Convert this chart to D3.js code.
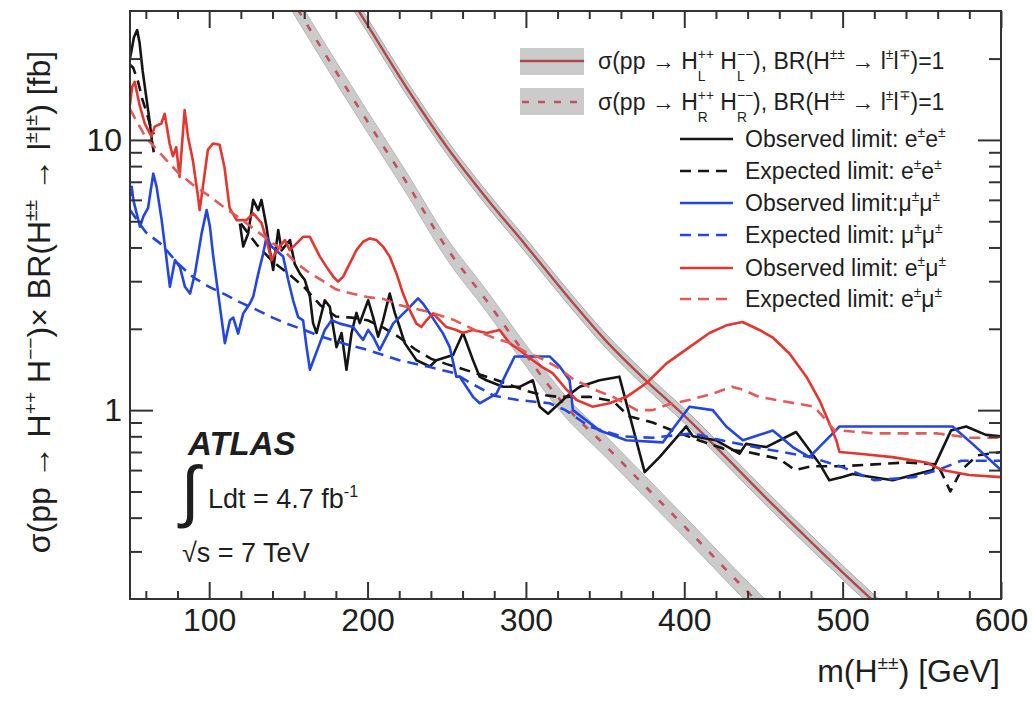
<!DOCTYPE html>
<html>
<head>
<meta charset="utf-8">
<script src="https://cdn.jsdelivr.net/npm/d3@7"></script>
<style>
  html, body { margin: 0; padding: 0; background: #fff; }
  svg { display: block; }
  text { font-family: "Liberation Sans", Arial, Helvetica, sans-serif; fill: #1e1e1e; white-space: pre; }
</style>
</head>
<body>
<svg id="chart" width="1032" height="706"></svg>
<script>
// ---- axis ticks ----
const xMajorTicks = [100, 200, 300, 400, 500, 600];
const xMinorTicks = [60, 80, 120, 140, 160, 180, 220, 240, 260, 280, 320, 340, 360, 380, 420, 440, 460, 480, 520, 540, 560, 580];
const yMajorTicks = [1, 10];
const yMinorTicks = [0.3, 0.4, 0.5, 0.6, 0.7, 0.8, 0.9, 2, 3, 4, 5, 6, 7, 8, 9, 20];

// ---- theory cross sections (fb) ----
const massTheory = [150, 175, 200, 225, 250, 275, 300, 325, 350, 375, 400, 450, 500, 550, 600];
const sigmaL = [85, 45.7, 26.6, 15.5, 9.44, 6.1, 4.07, 2.69, 1.82, 1.30, 0.955, 0.484, 0.251, 0.135, 0.074];
const sigmaR = [34.7, 20.0, 11.7, 6.9, 3.98, 2.55, 1.60, 1.035, 0.741, 0.525, 0.372, 0.186, 0.100, 0.055, 0.032];
const relUncL = 0.06;
const relUncR = 0.09;

// ---- 95% CL limits, [mass GeV, sigma x BR fb]; null marks the ee Z-window gap ----
const obsEE = [[50,20],[51,21.5],[52.5,24],[54.5,25.5],[56,23],[58,18],[60,14.8],[62,12.2],[64,9.8],[65,9.0], null,
  [119.4,4.9],[121.5,4.03],[124.6,4.5],[127.8,6.0],[131,5.5],[133,6.0],[136.2,4.77],[138.3,3.9],[140.4,3.3],[143.6,4.64],
  [145.7,3.9],[151,4.26],[154,3.48],[157.3,3.2],[160.4,3.03],[163.6,2.63],[165.6,2.1],[167.8,1.93],[173,2.55],[176.2,2.41],
  [180.4,1.71],[183.6,1.93],[186.7,1.41],[189.9,1.93],[193,2.29],[195.1,2.1],[200.4,2.55],[203.5,2.21],[206.7,1.87],
  [209.8,2.15],[214,2.7],[217.2,2.29],[220.3,2.03],[223.5,1.77],[230.9,1.53],[239.3,1.45],[243.5,1.53],[254,1.6],
  [260.3,1.93],[266.6,1.53],[270.8,1.33],[275,1.29],[285.5,1.22],[296,1.22],[304.4,1.29],[308.7,1.03],[314,0.97],
  [325.5,1.12],[334,1.22],[346.5,1.29],[359,1.33],[375,0.59],[384.4,0.67],[401.2,0.87],[405.4,0.80],[420,0.774],
  [434.8,0.69],[439,0.75],[451.7,0.73],[470.6,0.83],[485.3,0.635],[491.6,0.55],[500,0.566],[506.3,0.58],[531.6,0.55],
  [556.8,0.60],[568.4,0.84],[578,0.87],[590.5,0.81],[600,0.80]];

const expEE = [[50,19],[52,18.5],[55,16.5],[58,14],[60,12.9],[63,11.2],[65,10.5], null,
  [120,4.9],[130,4.1],[140,3.55],[150,3.2],[160,2.85],[170,2.45],[180,2.22],[190,2.2],[200,2.15],[210,2.02],[220,1.86],
  [230,1.68],[240,1.55],[250,1.48],[260,1.42],[270,1.36],[280,1.3],[290,1.24],[300,1.18],[310,1.14],[320,1.12],[340,1.12],
  [355,1.08],[365,0.95],[380,0.9],[395,0.83],[410,0.77],[425,0.72],[440,0.70],[460,0.66],[470,0.60],[480,0.62],[500,0.62],
  [520,0.63],[540,0.64],[560,0.63],[568,0.50],[575,0.60],[585,0.68],[600,0.70]];

const obsMM = [[50,6.2],[51.1,6.7],[52.1,6.0],[54.2,5.35],[56.3,4.77],[58.4,5.2],[61.4,5.6],[64.7,7.5],[66.8,6.7],[70,5.05],
  [72.1,4.03],[75.2,2.86],[78.4,3.59],[81.5,3.39],[84.7,2.86],[87.9,2.7],[91,3.2],[95.2,4.5],[98.4,5.5],[100.5,4.77],
  [102.6,3.7],[106.8,2.41],[109.9,1.77],[113.1,2.15],[115.2,2.2],[118.3,1.92],[121.5,2.28],[125.7,2.48],[127.8,2.63],
  [131,3.2],[134.1,3.8],[136.2,4.38],[139.4,4.03],[146.7,3.7],[149.9,3.03],[153,2.55],[156.2,2.21],[159.3,2.15],
  [161.5,1.71],[163.6,1.41],[166.7,1.58],[169.9,1.77],[173,1.98],[177.3,2.15],[182.5,2.09],[190.9,2.03],[194,1.92],
  [197.2,1.82],[200.4,1.98],[203.5,1.87],[207.7,1.67],[212,1.87],[216.1,2.09],[220.3,2.21],[224.6,2.34],[228.7,2.48],
  [231.9,2.59],[235,2.48],[239.3,2.28],[243.5,2.09],[247.7,1.92],[251.9,1.71],[256.1,1.33],[258.2,1.33],[266.6,1.12],
  [270.8,1.06],[281.4,1.15],[287.7,1.37],[292.9,1.58],[315,1.58],[321.3,1.45],[327.6,1.29],[329.7,1.0],[346.5,0.84],
  [363.4,0.774],[386.5,0.76],[403.3,1.03],[418,1.0],[426.5,0.87],[437,0.774],[455.9,0.84],[468.5,0.73],[479,0.67],
  [489.6,0.774],[498,0.87],[569.4,0.87],[582,0.75],[600,0.60]];

const expMM = [[50,5.5],[55,5.0],[60,4.55],[70,4.1],[80,3.5],[90,3.1],[100,2.86],[110,2.68],[120,2.5],[130,2.35],[140,2.2],
  [150,2.08],[160,1.98],[170,1.88],[180,1.8],[190,1.73],[200,1.67],[220,1.53],[240,1.44],[255,1.37],[265,1.26],[280,1.13],
  [295,1.09],[315,1.06],[325,1.0],[340,0.87],[360,0.80],[380,0.79],[405,0.82],[425,0.77],[450,0.72],[480,0.67],[500,0.615],
  [520,0.55],[545,0.565],[560,0.6],[575,0.65],[600,0.65]];

const obsEM = [[50,13.5],[51.3,15.7],[53,16.4],[56,13.5],[59.3,11.5],[63.5,10.3],[65.6,11.2],[69.8,11.5],[71.9,12.5],[75,9.7],
  [77.1,8.7],[79.2,9.4],[81.3,7.3],[84.5,12.9],[86.6,10.3],[89.7,8.4],[92.9,6.2],[94,5.5],[99.2,9.2],[102.4,9.7],[106.6,9.6],
  [109.7,7.9],[112.9,5.6],[117.3,5.05],[123.6,5.05],[127.8,5.35],[133.1,4.92],[136.2,4.26],[139.4,3.59],[141.5,3.8],
  [144.6,4.03],[147.8,4.26],[150.9,3.91],[155.2,4.14],[159.3,4.38],[163.6,4.38],[166.7,4.03],[169.9,3.7],[174.1,3.39],
  [178.3,3.12],[181.4,2.99],[184.6,3.12],[188.8,3.49],[193,3.91],[197.2,4.2],[201.4,4.32],[205.6,4.26],[209.8,4.03],
  [214,3.7],[218.3,3.2],[222.4,2.7],[226.7,2.34],[230.9,2.09],[234,2.03],[237.2,2.15],[241.4,2.28],[245.6,2.15],
  [249.8,2.03],[256.1,1.98],[260,1.93],[266.4,1.98],[275.2,1.93],[283.4,1.98],[289.7,1.77],[296,1.67],[304.3,1.53],
  [310.6,1.44],[316.9,1.37],[325.7,1.19],[332,1.09],[342,1.03],[352.8,1.06],[363.6,1.12],[376.2,1.26],[388.8,1.49],
  [403.3,1.71],[415.9,1.93],[426.7,2.06],[436.8,2.12],[447.5,1.98],[455.7,1.86],[466.4,1.62],[477.1,1.33],[485.3,1.09],
  [491.6,0.895],[496,0.774],[498,0.70],[510.6,0.69],[531.4,0.67],[552.8,0.64],[562.9,0.60],[579.9,0.575],[600,0.565]];

const expEM = [[50,13],[55,11.5],[60,10.2],[70,8.8],[80,7.6],[90,6.8],[100,6.2],[110,5.6],[120,5.1],[130,4.6],[140,4.15],
  [147,3.9],[155,3.5],[164,3.2],[172,3.0],[180,2.8],[190,2.7],[200,2.62],[210,2.58],[220,2.45],[240,2.3],[255,2.15],
  [270,1.95],[280,1.85],[290,1.77],[300,1.64],[310,1.55],[320,1.44],[330,1.3],[345,1.18],[355,1.12],[370,1.0],[380,1.0],
  [390,1.05],[403,1.09],[418,1.15],[430,1.22],[437,1.19],[447,1.12],[458,1.09],[470,1.06],[482,1.03],[488,0.94],
  [495,0.84],[500,0.84],[520,0.82],[560,0.82],[580,0.79],[600,0.79]];

// ---- legend labels ----
const limitLegend = [
  { label: "Observed limit: ", pair: ["e", "e"],   color: "#151515", dash: null },
  { label: "Expected limit: ", pair: ["e", "e"],   color: "#151515", dash: "11,7" },
  { label: "Observed limit:",  pair: ["μ", "μ"],   color: "#2346e0", dash: null },
  { label: "Expected limit: ", pair: ["μ", "μ"],   color: "#2346e0", dash: "11,7" },
  { label: "Observed limit: ", pair: ["e", "μ"],   color: "#e2362f", dash: null },
  { label: "Expected limit: ", pair: ["e", "μ"],   color: "#e25a5a", dash: "11,7" }
];

// ---- layout ----
const svg = d3.select("#chart");
const plotL = 130, plotR = 1001, plotT = 11, plotB = 599;
const x = d3.scaleLinear().domain([50, 600]).range([plotL, plotR]);
const y = d3.scaleLog().domain([0.2, 30]).range([plotB, plotT]);

svg.append("rect").attr("width", 1032).attr("height", 706).attr("fill", "#fff");

svg.append("defs").append("clipPath").attr("id", "plotClip")
  .append("rect").attr("x", plotL).attr("y", plotT).attr("width", plotR - plotL).attr("height", plotB - plotT);

const plot = svg.append("g").attr("clip-path", "url(#plotClip)");

// theory bands
function theoryBand(sig, unc) {
  return massTheory.map((m, i) => ({ m, v: sig[i], lo: sig[i] * (1 - unc), hi: sig[i] * (1 + unc) }));
}
const bandArea = d3.area().x(d => x(d.m)).y0(d => y(d.lo)).y1(d => y(d.hi)).curve(d3.curveMonotoneX);
const bandLine = d3.line().x(d => x(d.m)).y(d => y(d.v)).curve(d3.curveMonotoneX);

const bandR = theoryBand(sigmaR, relUncR);
const bandL = theoryBand(sigmaL, relUncL);

plot.append("path").attr("d", bandArea(bandR)).attr("fill", "#cbcbcb").attr("stroke", "#b8b8b8").attr("stroke-width", 1);
plot.append("path").attr("d", bandLine(bandR)).attr("fill", "none").attr("stroke", "#c4505e")
  .attr("stroke-width", 2.6).attr("stroke-dasharray", "7,11");
plot.append("path").attr("d", bandArea(bandL)).attr("fill", "#cbcbcb").attr("stroke", "#a9a9a9").attr("stroke-width", 1);
plot.append("path").attr("d", bandLine(bandL)).attr("fill", "none").attr("stroke", "#b04848").attr("stroke-width", 2.4);

// limit curves
const limitLine = d3.line().defined(d => d !== null).x(d => x(d[0])).y(d => y(d[1]));
const series = [
  { data: obsEE, color: "#151515", dash: null },
  { data: expEE, color: "#151515", dash: "11,7" },
  { data: obsMM, color: "#2346e0", dash: null },
  { data: expMM, color: "#2346e0", dash: "11,7" },
  { data: obsEM, color: "#e2362f", dash: null },
  { data: expEM, color: "#e25a5a", dash: "11,7" }
];
series.forEach(s => {
  plot.append("path").attr("d", limitLine(s.data)).attr("fill", "none")
    .attr("stroke", s.color).attr("stroke-width", 2.6).attr("stroke-linejoin", "round")
    .attr("stroke-dasharray", s.dash);
});

// ---- axes (inward ticks on all four sides) ----
function styleAxis(g) {
  g.select(".domain").remove();
  g.selectAll(".tick line").attr("stroke", "#333").attr("stroke-width", 2);
  g.selectAll(".tick text").attr("font-size", 32).attr("fill", "#1e1e1e")
    .attr("font-family", "Liberation Sans, Arial, sans-serif");
}
const fmt = d3.format("d");
svg.append("g").attr("transform", `translate(0,${plotB})`)
  .call(d3.axisBottom(x).tickValues(xMajorTicks).tickSize(-17).tickPadding(9).tickFormat(fmt)).call(styleAxis);
svg.append("g").attr("transform", `translate(0,${plotB})`)
  .call(d3.axisBottom(x).tickValues(xMinorTicks).tickSize(-8).tickFormat("")).call(styleAxis);
svg.append("g").attr("transform", `translate(0,${plotT})`)
  .call(d3.axisTop(x).tickValues(xMajorTicks).tickSize(-17).tickFormat("")).call(styleAxis);
svg.append("g").attr("transform", `translate(0,${plotT})`)
  .call(d3.axisTop(x).tickValues(xMinorTicks).tickSize(-8).tickFormat("")).call(styleAxis);

svg.append("g").attr("transform", `translate(${plotL},0)`)
  .call(d3.axisLeft(y).tickValues(yMajorTicks).tickSize(-23).tickPadding(8).tickFormat(fmt)).call(styleAxis);
svg.append("g").attr("transform", `translate(${plotL},0)`)
  .call(d3.axisLeft(y).tickValues(yMinorTicks).tickSize(-12).tickFormat("")).call(styleAxis);
svg.append("g").attr("transform", `translate(${plotR},0)`)
  .call(d3.axisRight(y).tickValues(yMajorTicks).tickSize(-23).tickFormat("")).call(styleAxis);
svg.append("g").attr("transform", `translate(${plotR},0)`)
  .call(d3.axisRight(y).tickValues(yMinorTicks).tickSize(-12).tickFormat("")).call(styleAxis);

svg.append("rect").attr("x", plotL).attr("y", plotT).attr("width", plotR - plotL).attr("height", plotB - plotT)
  .attr("fill", "none").attr("stroke", "#333").attr("stroke-width", 2);

// ---- rich text: runs of text with super/subscripts ----
// part: {t, s: size factor, dy: baseline shift in em, stack: place over previous script}
function richText(parent, px, py, parts, size, opts = {}) {
  const g = parent.append("g");
  const inner = g.append("g");
  let cx = 0, lastStart = 0;
  parts.forEach(p => {
    const fs = size * (p.s || 1);
    const sx = p.stack ? lastStart : cx;
    const t = inner.append("text").attr("x", sx).attr("y", (p.dy || 0) * size)
      .attr("font-size", fs).text(p.t);
    if (p.weight) t.attr("font-weight", p.weight);
    if (p.style) t.attr("font-style", p.style);
    if (p.family) t.attr("font-family", p.family);
    const w = t.node().getComputedTextLength();
    if (p.stack) cx = Math.max(cx, sx + w);
    else { lastStart = sx; cx = sx + w; }
  });
  const shift = opts.anchor === "end" ? -cx : opts.anchor === "middle" ? -cx / 2 : 0;
  inner.attr("transform", `translate(${shift},0)`);
  g.attr("transform", `translate(${px},${py})` + (opts.rotate ? ` rotate(${opts.rotate})` : ""));
  return g;
}
const SUP = -0.42, SC = 0.6;

// axis titles
richText(svg, 1000, 682, [
  { t: "m(H" }, { t: "±±", s: SC, dy: SUP }, { t: ") [GeV]" }
], 32, { anchor: "end" });

richText(svg, 50, 302, [
  { t: "σ(pp → H" }, { t: "++", s: SC, dy: SUP }, { t: " H" }, { t: "−−", s: SC, dy: SUP },
  { t: ")× BR(H" }, { t: "±±", s: SC, dy: SUP }, { t: " → l" }, { t: "±", s: SC, dy: SUP },
  { t: "l" }, { t: "±", s: SC, dy: SUP }, { t: ") [fb]" }
], 32, { anchor: "middle", rotate: -90 });

// experiment label
richText(svg, 188, 455, [{ t: "ATLAS", weight: "bold", style: "italic" }], 33);
svg.append("text").attr("x", 181).attr("y", 514).attr("font-size", 68)
  .attr("font-family", "DejaVu Sans, sans-serif").text("∫");
richText(svg, 208, 508, [{ t: "Ldt = 4.7 fb" }, { t: "-1", s: SC, dy: SUP }], 27);
richText(svg, 182, 562, [{ t: "√s = 7 TeV" }], 27);

// ---- legend ----
const leg = svg.append("g");
leg.append("rect").attr("x", 520).attr("y", 48).attr("width", 64).attr("height", 27).attr("fill", "#cbcbcb");
leg.append("line").attr("x1", 520).attr("x2", 584).attr("y1", 61).attr("y2", 61)
  .attr("stroke", "#b04848").attr("stroke-width", 2.4);
leg.append("rect").attr("x", 520).attr("y", 88).attr("width", 64).attr("height", 27).attr("fill", "#cbcbcb");
leg.append("line").attr("x1", 522).attr("x2", 584).attr("y1", 102).attr("y2", 102)
  .attr("stroke", "#c4505e").attr("stroke-width", 2.6).attr("stroke-dasharray", "7,9");

function theoryLabel(hand, yy) {
  richText(leg, 598, yy, [
    { t: "σ(pp → H" }, { t: "++", s: SC, dy: SUP }, { t: hand, s: SC, dy: 0.5, stack: true },
    { t: " H" }, { t: "−−", s: SC, dy: SUP }, { t: hand, s: SC, dy: 0.5, stack: true },
    { t: "), BR(H" }, { t: "±±", s: SC, dy: SUP }, { t: " → l" }, { t: "±", s: SC, dy: SUP },
    { t: "l" }, { t: "∓", s: SC, dy: SUP }, { t: ")=1" }
  ], 23);
}
theoryLabel("L", 69);
theoryLabel("R", 110);

const rowY = [139, 171, 203, 235, 268, 299];
limitLegend.forEach((e, i) => {
  const yy = rowY[i];
  leg.append("line").attr("x1", 680).attr("x2", 733).attr("y1", yy).attr("y2", yy)
    .attr("stroke", e.color).attr("stroke-width", 2.6).attr("stroke-dasharray", e.dash);
  richText(leg, 745, yy + 8, [
    { t: e.label }, { t: e.pair[0] }, { t: "±", s: SC, dy: SUP }, { t: e.pair[1] }, { t: "±", s: SC, dy: SUP }
  ], 23);
});
</script>
</body>
</html>
